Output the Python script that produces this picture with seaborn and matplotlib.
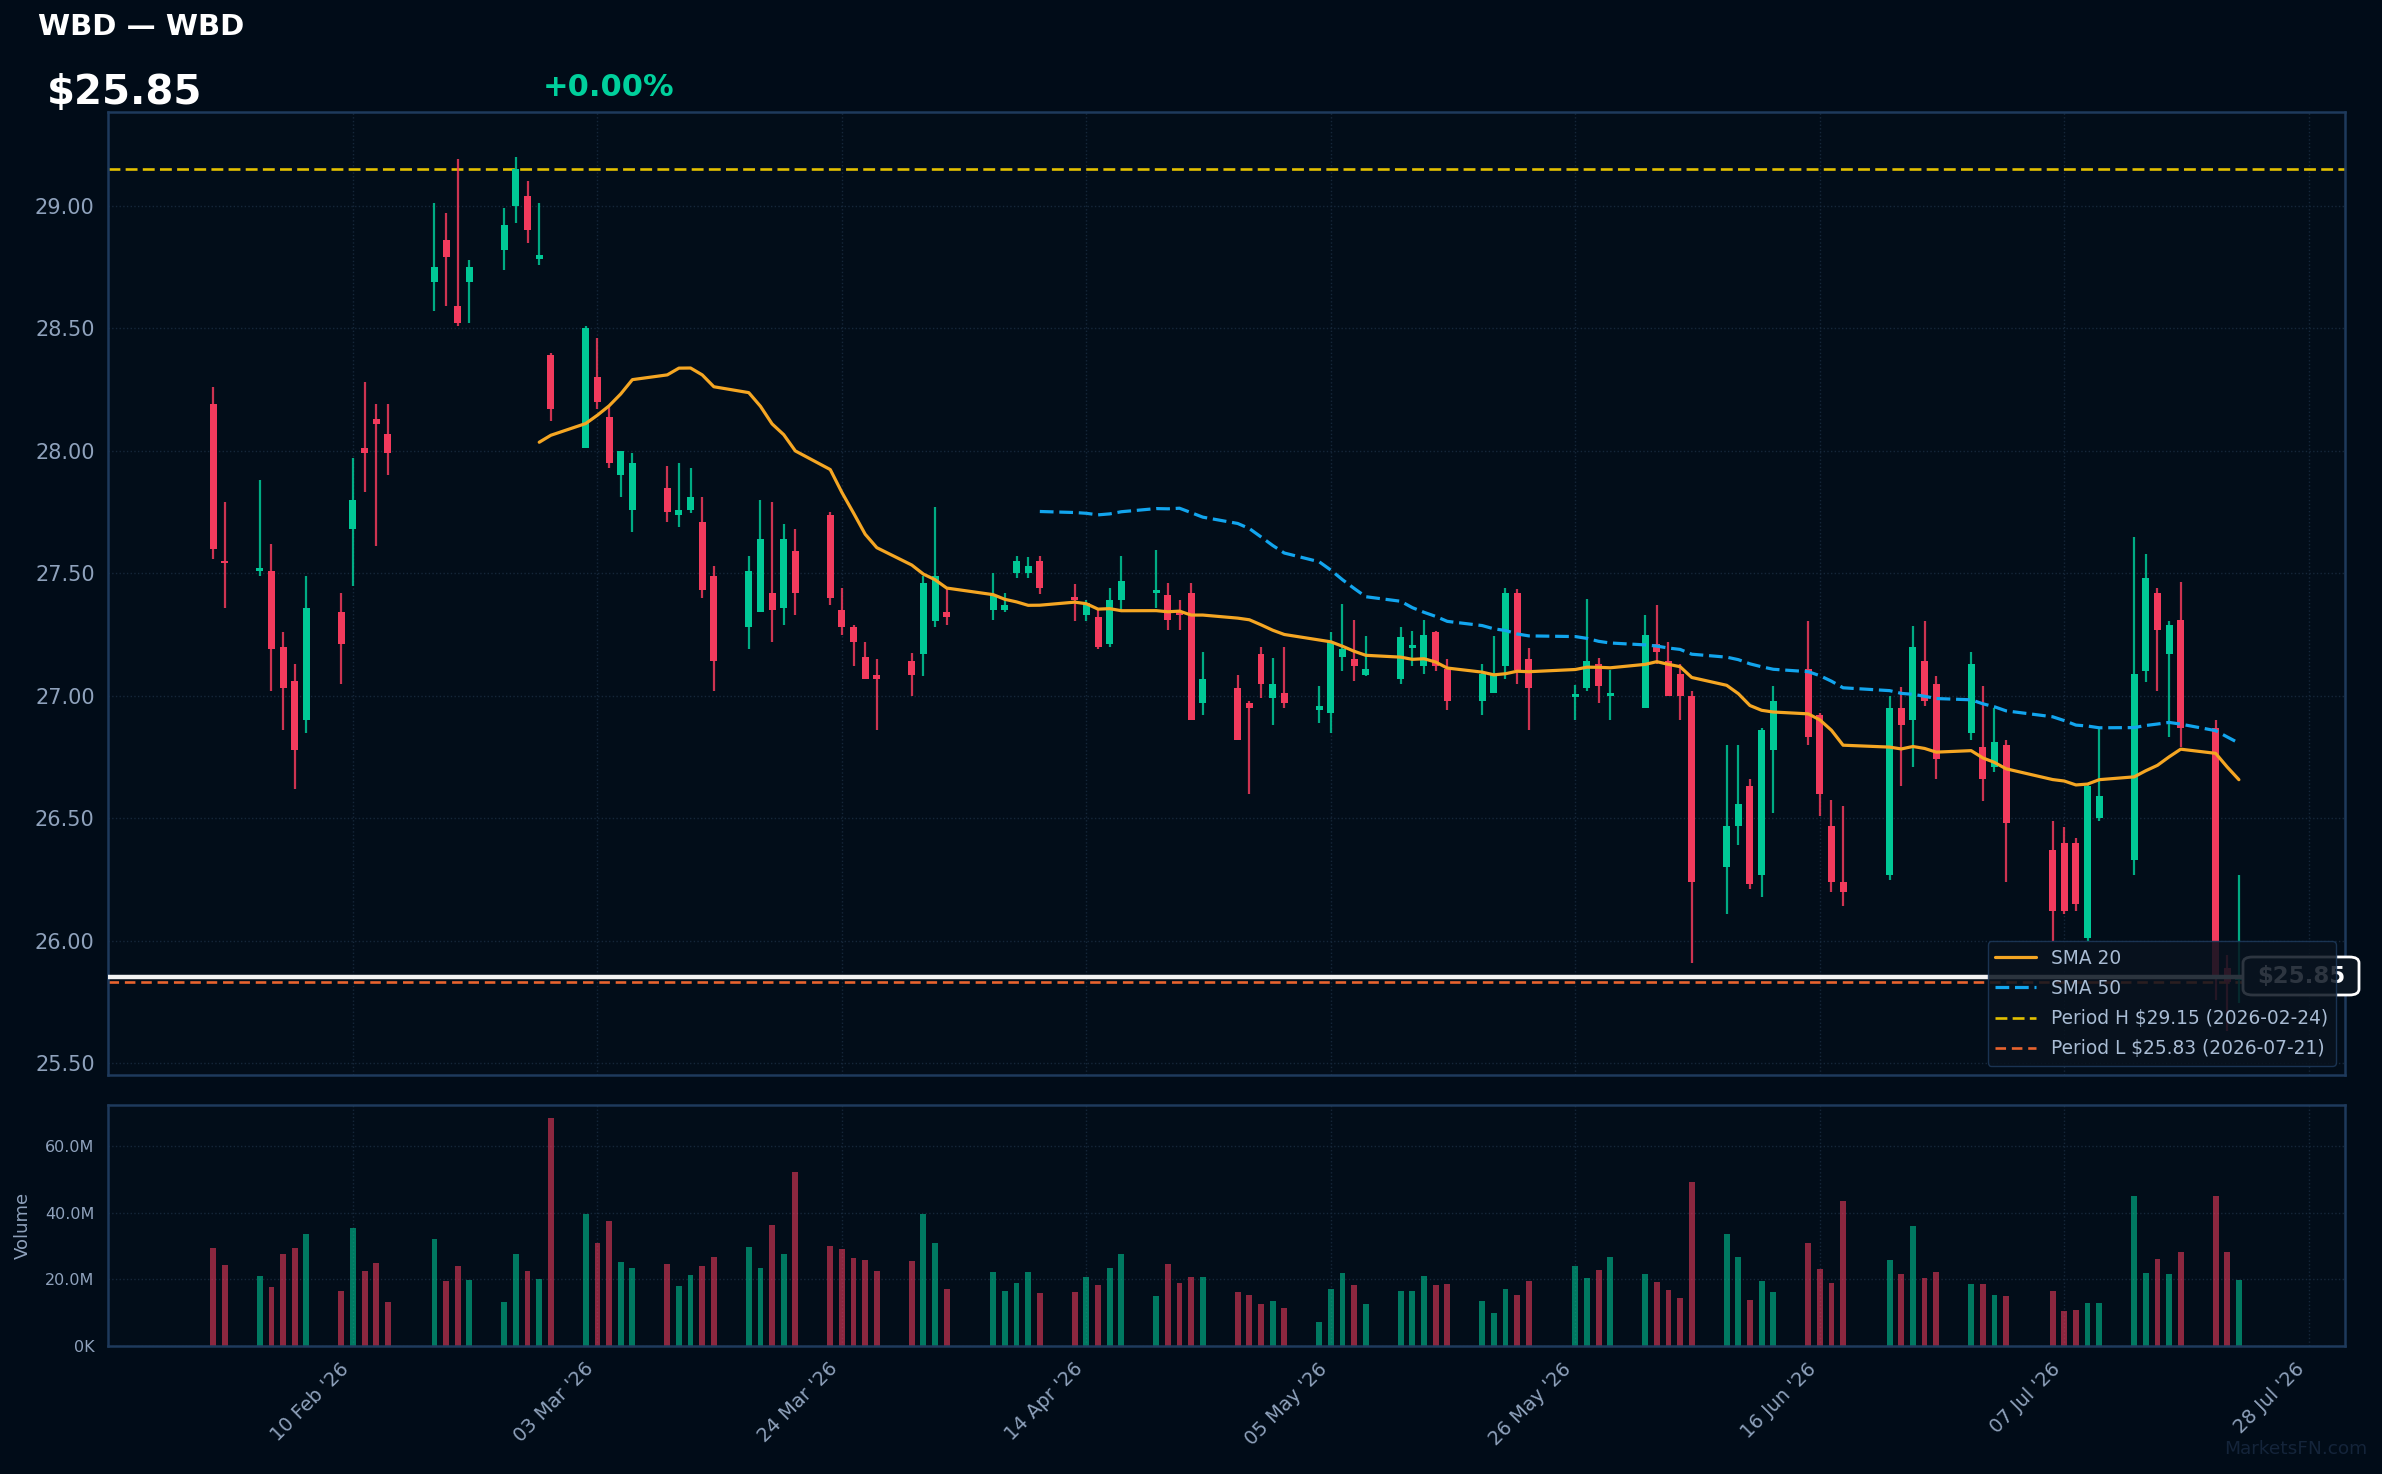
import numpy as np
import pandas as pd
import seaborn as sns
import matplotlib.pyplot as plt
import matplotlib.dates as mdates
from matplotlib.lines import Line2D
from matplotlib.patches import FancyBboxPatch
from matplotlib.ticker import FuncFormatter, FixedLocator

# --- data ---
symbol = "WBD"
holidays = ["2026-02-16", "2026-04-03", "2026-05-25", "2026-06-19", "2026-07-03"]
dates = pd.bdate_range("2026-01-29", "2026-07-22", freq="C", holidays=holidays)

opens = [28.19, 27.55, 27.51, 27.51, 27.20, 27.06, 26.90, 27.34, 27.68, 28.01,
         28.13, 28.07, 28.69, 28.86, 28.59, 28.69, 28.82, 29.00, 29.04, 28.785,
         28.39, 28.01, 28.30, 28.14, 27.90, 27.76, 27.85, 27.74, 27.76, 27.71,
         27.49, 27.28, 27.34, 27.42, 27.36, 27.59, 27.74, 27.35, 27.28, 27.16,
         27.085, 27.14, 27.17, 27.305, 27.34, 27.35, 27.35, 27.50, 27.50, 27.55,
         27.40, 27.33, 27.32, 27.21, 27.39, 27.42, 27.41, 27.345, 27.42, 26.97,
         27.03, 26.97, 27.17, 26.99, 27.01, 26.94, 26.93, 27.16, 27.15, 27.085,
         27.07, 27.195, 27.12, 27.26, 27.11, 26.98, 27.01, 27.12, 27.42, 27.15,
         26.995, 27.03, 27.13, 27.00, 26.95, 27.21, 27.14, 27.09, 27.00, 26.30,
         26.47, 26.63, 26.27, 26.78, 27.11, 26.92, 26.47, 26.24, 26.27, 26.95,
         26.90, 27.14, 27.05, 26.85, 26.79, 26.71, 26.80, 26.37, 26.40, 26.40,
         26.01, 26.50, 26.33, 27.10, 27.42, 27.17, 27.31, 26.87, 25.89, 25.84]
highs = [28.26, 27.79, 27.88, 27.62, 27.26, 27.13, 27.49, 27.42, 27.97, 28.28,
         28.19, 28.19, 29.01, 28.97, 29.19, 28.78, 28.99, 29.20, 29.10, 29.01,
         28.40, 28.51, 28.46, 28.18, 28.00, 27.99, 27.94, 27.95, 27.93, 27.81,
         27.53, 27.57, 27.80, 27.79, 27.70, 27.68, 27.75, 27.44, 27.29, 27.22,
         27.15, 27.175, 27.49, 27.77, 27.44, 27.50, 27.42, 27.57, 27.565, 27.57,
         27.455, 27.39, 27.35, 27.44, 27.57, 27.595, 27.46, 27.39, 27.46, 27.18,
         27.085, 26.98, 27.20, 27.155, 27.20, 27.04, 27.26, 27.375, 27.31, 27.245,
         27.28, 27.265, 27.31, 27.265, 27.15, 27.13, 27.245, 27.44, 27.435, 27.195,
         27.044, 27.395, 27.155, 27.105, 27.33, 27.37, 27.22, 27.13, 27.02, 26.80,
         26.80, 26.66, 26.87, 27.04, 27.305, 26.93, 26.575, 26.55, 27.00, 27.035,
         27.285, 27.305, 27.08, 27.18, 27.04, 26.95, 26.82, 26.49, 26.465, 26.42,
         26.635, 26.87, 27.65, 27.58, 27.44, 27.305, 27.465, 26.90, 25.94, 26.27]
lows = [27.56, 27.36, 27.49, 27.02, 26.86, 26.62, 26.85, 27.05, 27.45, 27.83,
        27.61, 27.90, 28.57, 28.59, 28.51, 28.52, 28.74, 28.93, 28.85, 28.76,
        28.12, 28.01, 28.17, 27.93, 27.81, 27.67, 27.71, 27.69, 27.745, 27.40,
        27.02, 27.19, 27.34, 27.22, 27.29, 27.33, 27.37, 27.25, 27.12, 27.07,
        26.86, 27.00, 27.08, 27.28, 27.29, 27.31, 27.34, 27.48, 27.48, 27.415,
        27.305, 27.305, 27.19, 27.20, 27.34, 27.36, 27.27, 27.27, 26.90, 26.92,
        26.82, 26.60, 26.99, 26.88, 26.95, 26.89, 26.85, 27.10, 27.06, 27.08,
        27.05, 27.12, 27.09, 27.10, 26.94, 26.92, 27.01, 27.07, 27.05, 26.86,
        26.90, 27.02, 26.97, 26.90, 26.95, 27.13, 27.00, 26.90, 25.91, 26.11,
        26.39, 26.21, 26.18, 26.52, 26.80, 26.51, 26.20, 26.14, 26.25, 26.63,
        26.71, 26.96, 26.66, 26.82, 26.57, 26.69, 26.24, 26.00, 26.11, 26.12,
        26.00, 26.49, 26.27, 27.055, 27.02, 26.83, 26.79, 25.76, 25.63, 25.745]
closes = [27.60, 27.54, 27.52, 27.19, 27.03, 26.78, 27.36, 27.21, 27.80, 27.99,
          28.11, 27.99, 28.75, 28.79, 28.52, 28.75, 28.92, 29.15, 28.90, 28.80,
          28.17, 28.50, 28.20, 27.95, 28.00, 27.95, 27.75, 27.76, 27.81, 27.43,
          27.14, 27.51, 27.64, 27.35, 27.64, 27.42, 27.40, 27.28, 27.22, 27.07,
          27.07, 27.085, 27.46, 27.49, 27.32, 27.41, 27.37, 27.55, 27.53, 27.44,
          27.39, 27.38, 27.20, 27.39, 27.47, 27.425, 27.31, 27.33, 26.90, 27.07,
          26.82, 26.95, 27.05, 27.05, 26.97, 26.96, 27.22, 27.19, 27.12, 27.11,
          27.24, 27.20, 27.25, 27.12, 26.98, 27.09, 27.09, 27.42, 27.105, 27.03,
          27.00, 27.14, 27.04, 27.01, 27.25, 27.18, 27.00, 27.00, 26.24, 26.47,
          26.56, 26.23, 26.86, 26.98, 26.83, 26.60, 26.24, 26.20, 26.95, 26.88,
          27.20, 26.98, 26.74, 27.13, 26.66, 26.81, 26.48, 26.12, 26.12, 26.15,
          26.63, 26.59, 27.09, 27.48, 27.27, 27.29, 26.87, 25.86, 25.83, 25.85]
volumes_m = [29.3, 24.2, 20.9, 17.6, 27.5, 29.3, 33.5, 16.4, 35.3, 22.4,
             24.8, 13.1, 32.0, 19.4, 23.9, 19.7, 13.1, 27.5, 22.4, 20.0,
             68.6, 39.8, 30.8, 37.7, 25.1, 23.3, 24.5, 17.9, 21.2, 23.9,
             26.6, 29.6, 23.3, 36.5, 27.5, 52.4, 29.9, 29.0, 26.3, 25.7,
             22.4, 25.4, 39.8, 30.8, 17.0, 22.1, 16.4, 18.8, 22.1, 15.8,
             16.1, 20.6, 18.2, 23.3, 27.5, 14.9, 24.5, 18.8, 20.6, 20.6,
             16.1, 15.2, 12.5, 13.4, 11.3, 7.1, 17.0, 21.8, 18.2, 12.5,
             16.4, 16.4, 20.9, 18.2, 18.5, 13.4, 9.8, 17.0, 15.2, 19.4,
             23.9, 20.3, 22.7, 26.6, 21.5, 19.1, 16.7, 14.3, 49.4, 33.5,
             26.6, 13.7, 19.4, 16.1, 30.8, 23.0, 18.8, 43.7, 25.7, 21.5,
             36.2, 20.3, 22.1, 18.5, 18.5, 15.2, 14.9, 16.4, 10.4, 10.7,
             12.8, 12.8, 45.2, 21.8, 26.0, 21.5, 28.1, 45.2, 28.1, 19.7]

period_high = 29.15
period_high_date = "2026-02-24"
period_low = 25.83
period_low_date = "2026-07-21"
last_price = 25.85
change_text = "+0.00%"
tick_dates = ["2026-02-10", "2026-03-03", "2026-03-24", "2026-04-14", "2026-05-05",
              "2026-05-26", "2026-06-16", "2026-07-07", "2026-07-28"]

# --- style ---
BG = "#010c18"
AX_BG = "#020d19"
UP = "#00c896"
DOWN = "#f23a5c"
SPINE = "#1e3a5c"
GRID = "#16273a"
TXT = "#8fa2bc"
W, H = 2382, 1474

sns.set_theme(style="dark")
plt.rcParams["font.family"] = ["DejaVu Sans"]

df = pd.DataFrame({"open": opens, "high": highs, "low": lows,
                   "close": closes, "volume": np.array(volumes_m) * 1e6}, index=dates)
df["sma20"] = df["close"].rolling(20).mean()
df["sma50"] = df["close"].rolling(50).mean()
x = mdates.date2num(df.index.to_pydatetime())
up = df["close"].values >= df["open"].values
colors = np.where(up, UP, DOWN)

fig = plt.figure(figsize=(W / 100, H / 100), dpi=100, facecolor=BG)
ax = fig.add_axes([0.0453, 0.2707, 0.9391, 0.6533], facecolor=AX_BG)
axv = fig.add_axes([0.0453, 0.0868, 0.9391, 0.1638], facecolor=AX_BG, sharex=ax)

# candles
ax.vlines(x, df["low"], df["high"], color=colors, lw=1.6, alpha=0.85, zorder=2)
body_lo = np.minimum(df["open"].values, df["close"].values)
body_h = np.maximum(np.abs(df["close"].values - df["open"].values), 0.012)
ax.bar(x, body_h, bottom=body_lo, width=0.6, color=colors, linewidth=0, zorder=3)

# moving averages
sns.lineplot(x=x, y=df["sma20"].values, ax=ax, color="#f5a623", lw=2.3, zorder=4)
sns.lineplot(x=x, y=df["sma50"].values, ax=ax, color="#12a5ee", lw=2.3,
             linestyle=(0, (4.3, 1.8)), zorder=4)

# reference lines
ax.axhline(period_high, color="#e3c000", lw=1.9, ls=(0, (4.5, 2.0)), zorder=1.5)
ax.axhline(period_low, color="#e8632e", lw=1.9, ls=(0, (4.0, 2.2)), zorder=1.5)
ax.axhline(last_price, color="#f2f2f2", lw=3.2, zorder=5)

# last price tag at the right edge
tag_cx, tag_cy, tag_w, tag_h = 2301, 976, 116, 38
tag = FancyBboxPatch(((tag_cx - tag_w / 2) / W, 1 - (tag_cy + tag_h / 2) / H),
                     tag_w / W, tag_h / H, boxstyle="round,pad=0,rounding_size=0.004",
                     transform=fig.transFigure, fc="#0b1622", ec="white", lw=2,
                     clip_on=False, zorder=6)
ax.add_patch(tag)
ax.text(tag_cx / W, 1 - tag_cy / H, f"${last_price:.2f}", transform=fig.transFigure,
        ha="center", va="center", fontsize=16.5, fontweight="bold", color="white",
        zorder=7, clip_on=False)

handles = [
    Line2D([], [], color="#f5a623", lw=2.3, label="SMA 20"),
    Line2D([], [], color="#12a5ee", lw=2.3, ls=(0, (4.3, 1.8)), label="SMA 50"),
    Line2D([], [], color="#e3c000", lw=1.9, ls=(0, (4.5, 2.0)),
           label=f"Period H ${period_high:.2f} ({period_high_date})"),
    Line2D([], [], color="#e8632e", lw=1.9, ls=(0, (4.0, 2.2)),
           label=f"Period L ${period_low:.2f} ({period_low_date})"),
]
leg = ax.legend(handles=handles, loc="lower right", fontsize=13.4, frameon=True,
                facecolor="#08121e", edgecolor=SPINE, framealpha=0.85,
                labelcolor="#a9bcd4", handlelength=2.2, labelspacing=0.6)
leg.set_zorder(10)

# axes formatting (price)
feb10 = mdates.date2num(pd.Timestamp("2026-02-10"))
ax.set_xlim(feb10 - 21.05, feb10 + 171.1)
ax.set_ylim(25.452, 29.383)
ax.set_yticks(np.arange(25.5, 29.01, 0.5))
ax.yaxis.set_major_formatter(FuncFormatter(lambda v, p: f"{v:.2f}"))
tick_x = mdates.date2num(pd.to_datetime(tick_dates).to_pydatetime())
ax.xaxis.set_major_locator(FixedLocator(tick_x))
ax.tick_params(axis="x", length=0, labelbottom=False)
ax.tick_params(axis="y", colors=TXT, labelsize=15, length=6, width=1.5)
ax.grid(True, color=GRID, ls=":", lw=1.0)

# volume
axv.bar(x, df["volume"], width=0.5, color=colors, alpha=0.58, linewidth=0)
axv.set_ylim(0, 72.5e6)
axv.set_yticks([0, 20e6, 40e6, 60e6])
axv.yaxis.set_major_formatter(FuncFormatter(lambda v, p: "0K" if v == 0 else f"{v / 1e6:.1f}M"))
axv.xaxis.set_major_formatter(mdates.DateFormatter("%d %b '%y"))
axv.tick_params(axis="y", colors=TXT, labelsize=11.5, length=6, width=1.5)
axv.tick_params(axis="x", colors=TXT, labelsize=14, length=6, width=1.5)
plt.setp(axv.get_xticklabels(), rotation=45, ha="right")
axv.set_ylabel("Volume", color=TXT, fontsize=13, labelpad=10)
axv.grid(True, color=GRID, ls=":", lw=1.0)

for a in (ax, axv):
    for s in a.spines.values():
        s.set_color(SPINE)
        s.set_linewidth(1.8)
        s.set_visible(True)

# header texts
fig.text(38 / W, 1 - 27 / H, f"{symbol} \u2014 {symbol}", fontsize=21,
         fontweight="bold", color="white", ha="left", va="center")
fig.text(47 / W, 1 - 93 / H, f"${last_price:.2f}", fontsize=29,
         fontweight="bold", color="white", ha="left", va="center")
fig.text(543 / W, 1 - 87 / H, change_text, fontsize=22,
         fontweight="bold", color="#00d09c", ha="left", va="center")
fig.text(2367 / W, 1 - 1449 / H, "MarketsFN.com", fontsize=13.3,
         color="#14243a", ha="right", va="center")

fig.savefig("out.png", dpi=100, facecolor=BG)
